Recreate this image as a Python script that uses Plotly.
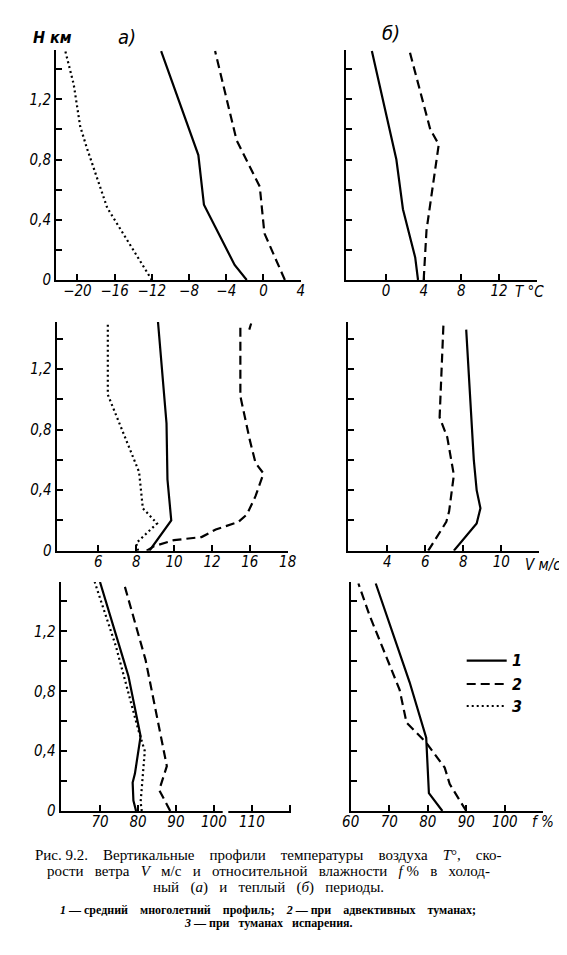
import plotly.graph_objects as go

# page body keeps its default 8px margin, so the figure is a bit smaller
# than the window and everything is placed relative to the window corner
PAGE_W, PAGE_H, BODY = 567, 955, 8
W, H = PAGE_W - BODY, PAGE_H - BODY

#-------------------------------------------------------------------------
# Data - heights (km) and values
#-------------------------------------------------------------------------

# temperature, cold period (a)
T_A_H1 = [0, 0.1, 0.5, 0.83, 1.52]
T_A_1 = [-1.8, -3.1, -6.4, -7.0, -11.0]
T_A_H2 = [0, 0.31, 0.62, 0.93, 1.52]
T_A_2 = [2.3, 0.1, -0.4, -2.9, -5.2]
T_A_H3 = [0, 0.48, 0.88, 1.02, 1.3, 1.52]
T_A_3 = [-12.0, -16.8, -19.0, -19.7, -20.4, -21.3]

# temperature, warm period (б)
T_B_H1 = [0, 0.15, 0.47, 0.8, 1.52]
T_B_1 = [3.4, 3.1, 1.8, 1.1, -1.5]
T_B_H2 = [0, 0.33, 0.9, 1.0, 1.52]
T_B_2 = [4.0, 4.3, 5.6, 4.7, 2.5]

# wind speed, cold period
V_A_H1 = [0, 0.2, 0.47, 0.84, 1.51]
V_A_1 = [8.7, 9.85, 9.65, 9.6, 9.15]
V_A_H2 = [0, 0.03, 0.07, 0.09, 0.14, 0.19, 0.24, 0.36, 0.51, 0.58, 0.73, 1.02, 1.5, None, 1.46, 1.5]
V_A_2 = [8.55, 8.95, 10.0, 11.45, 12.2, 13.4, 13.85, 14.3, 14.72, 14.3, 14.0, 13.5, 13.5, None, 13.97, 14.07]
V_A_H3 = [0, 0.05, 0.18, 0.28, 0.52, 1.03, 1.51]
V_A_3 = [8.1, 8.0, 9.1, 8.35, 8.15, 6.5, 6.5]

# wind speed, warm period
V_B_H1 = [0, 0.18, 0.28, 0.4, 0.6, 1.46]
V_B_1 = [7.5, 8.7, 8.9, 8.7, 8.55, 8.15]
V_B_H2 = [0, 0.19, 0.26, 0.5, 0.75, 0.88, 1.49]
V_B_2 = [6.15, 7.1, 7.25, 7.5, 7.15, 6.75, 6.95]

# relative humidity, cold period
F_A_H1 = [0, 0.07, 0.19, 0.25, 0.5, 0.9, 1.01, 1.53]
F_A_1 = [79.5, 78.8, 78.6, 79.2, 80.7, 77.5, 76.2, 70.0]
F_A_H2 = [0, 0.14, 0.3, 1.01, 1.53]
F_A_2 = [88.5, 85.6, 87.6, 82.0, 76.2]
F_A_H3 = [0, 0.06, 0.4, 0.55, 1.1, 1.53]
F_A_3 = [81.0, 80.7, 81.8, 80.0, 74.2, 68.6]

# relative humidity, warm period
F_B_H1 = [0, 0.12, 0.49, 0.86, 1.52]
F_B_1 = [83.8, 80.3, 79.6, 75.3, 66.5]
F_B_H2 = [0, 0.18, 0.29, 0.46, 0.59, 0.81, 1.3, 1.52]
F_B_2 = [90.0, 85.7, 84.4, 79.5, 74.5, 72.7, 65.0, 62.0]

# ticks
H_TICKS = [0, 0.2, 0.4, 0.6, 0.8, 1.0, 1.2, 1.4]
H_LABELS = ['0', '', '0,4', '', '0,8', '', '1,2', '']
T_A_TICKS = [-20, -16, -12, -8, -4, 0, 4]
T_A_LABELS = ['−20', '−16', '−12', '−8', '−4', '0', '4']
T_B_TICKS = [0, 4, 8, 12, 16]
T_B_LABELS = ['0', '4', '8', '12', '']
V_A_TICKS = [6, 8, 10, 12, 14, 16]
V_A_LABELS = ['6', '8', '10', '12', '16', '18']   # as printed
V_B_TICKS = [4, 6, 8, 10, 12]
V_B_LABELS = ['4', '6', '8', '10', '']
F_A_TICKS = [70, 80, 90, 100, 110, 120]
F_A_LABELS = ['70', '80', '90', '100', '110', '']
F_B_TICKS = [60, 70, 80, 90, 100, 110]
F_B_LABELS = ['60', '70', '80', '90', '100', '']


#-------------------------------------------------------------------------
# Styles
#-------------------------------------------------------------------------

LABEL_FONT = dict(family='DejaVu Sans Condensed, Liberation Sans Narrow, Liberation Sans',
                  size=15, color='black', style='italic')
CAPTION_FONT = dict(family='Liberation Serif, Times New Roman, serif', size=15, color='black')

LINES = {
    1: dict(color='black', width=2.2),
    2: dict(color='black', width=2.2, dash='9px,5px'),
    3: dict(color='black', width=2.2, dash='2px,3px'),
}

def px(x):
    return (x - BODY) / W

def py(y):
    return 1 - (y - BODY) / H


# (x domain px, y domain px, x range, y top, ticks, labels, left column, series)
PANELS = [
    ((56, 300.7), (49.6, 280), (-22.3, 4.0), 1.53, T_A_TICKS, T_A_LABELS, True,
     [(T_A_1, T_A_H1, 1), (T_A_2, T_A_H2, 2), (T_A_3, T_A_H3, 3)]),
    ((345.5, 536.7), (49.6, 280), (-4.3, 16.0), 1.53, T_B_TICKS, T_B_LABELS, False,
     [(T_B_1, T_B_H1, 1), (T_B_2, T_B_H2, 2)]),
    ((56.7, 287.7), (322, 550.7), (3.8, 16.0), 1.51, V_A_TICKS, V_A_LABELS, True,
     [(V_A_1, V_A_H1, 1), (V_A_2, V_A_H2, 2), (V_A_3, V_A_H3, 3)]),
    ((348.3, 539.3), (322, 550.7), (1.94, 12.0), 1.51, V_B_TICKS, V_B_LABELS, False,
     [(V_B_1, V_B_H1, 1), (V_B_2, V_B_H2, 2)]),
    ((60.5, 291), (582, 811), (59.6, 120.3), 1.53, F_A_TICKS, F_A_LABELS, True,
     [(F_A_1, F_A_H1, 1), (F_A_2, F_A_H2, 2), (F_A_3, F_A_H3, 3)]),
    ((350.7, 543.3), (582, 811), (60, 110), 1.53, F_B_TICKS, F_B_LABELS, False,
     [(F_B_1, F_B_H1, 1), (F_B_2, F_B_H2, 2)]),
]


fig = go.Figure()
layout = {}

for i, (xd, yd, xr, ytop, ticks, labels, left, series) in enumerate(PANELS, start=1):
    sfx = '' if i == 1 else str(i)
    for vals, hts, kind in series:
        fig.add_trace(go.Scatter(
            x=vals, y=hts, xaxis='x' + sfx, yaxis='y' + sfx,
            mode='lines', line=LINES[kind], showlegend=False,
            connectgaps=False, hoverinfo='skip',
        ))

    axis_common = dict(
        showline=True, linecolor='black', linewidth=2,
        ticks='inside', ticklen=6, tickwidth=1.6, tickcolor='black',
        showgrid=False, zeroline=False, tickfont=LABEL_FONT,
        tickmode='array', automargin=False,
    )
    layout['xaxis' + sfx] = dict(
        axis_common, domain=[px(xd[0]), px(xd[1])], range=list(xr),
        anchor='y' + sfx, tickvals=ticks, ticktext=labels,
        ticklabelstandoff=-4,
    )
    layout['yaxis' + sfx] = dict(
        axis_common, domain=[py(yd[1]), py(yd[0])], range=[0, ytop],
        anchor='x' + sfx, tickvals=H_TICKS,
        ticktext=H_LABELS if left else [''] * len(H_TICKS),
    )


#-------------------------------------------------------------------------
# Annotations: panel titles, units, legend and caption
#-------------------------------------------------------------------------

def note(text, x, y, size=14, font=None, **kw):
    f = dict(font or LABEL_FONT)
    f['size'] = size
    return dict(text=text, x=px(x), y=py(y), xref='paper', yref='paper',
                xanchor='center', yanchor='middle',
                showarrow=False, font=f, **kw)

bold_font = dict(LABEL_FONT, weight='bold')

annotations = [
    note('H км', 52, 38, size=16, font=bold_font),
    note('а)', 127, 37, size=20),
    note('б)', 391, 33, size=20),
    note('T °C', 529, 292, size=15),
    note('V м/с', 543, 565, size=15),
    note('f %', 543, 822, size=15),
]

# legend
for k, yy in zip([1, 2, 3], [660.7, 684, 706]):
    annotations.append(note(str(k), 517, yy, size=16, font=bold_font))

shapes = [
    dict(type='line', xref='paper', yref='paper',
         x0=px(466.7), x1=px(506.7), y0=py(yy), y1=py(yy), line=LINES[k])
    for k, yy in zip([1, 2, 3], [660.7, 684, 706])
]
# axis break in the humidity (cold) panel
shapes.append(dict(type='rect', xref='paper', yref='paper', layer='above',
                   x0=px(222.7), x1=px(228.3), y0=py(815), y1=py(806),
                   fillcolor='white', line=dict(width=0)))

# caption - extra non-breaking spaces imitate the justified typesetting
NB = '\u00a0'

def spaced(words, n):
    return (NB * n).join(words)

CAPTION = [
    (spaced(['Рис.' + NB + '9.2.', 'Вертикальные', 'профили', 'температуры', 'воздуха',
             '<i>T</i>°,', 'ско-'], 4), 855, 15, False),
    (spaced(['рости', 'ветра', '<i>V</i>', 'м/с', 'и', 'относительной', 'влажности',
             '<i>f</i>' + NB + '%', 'в', 'холод-'], 3), 871, 15, False),
    (spaced(['ный', '(<i>а</i>)', 'и', 'теплый', '(<i>б</i>)', 'периоды.'], 3), 887, 15, False),
    (spaced(['<i>1</i> — средний', 'многолетний', 'профиль;', '<i>2</i> — при',
             'адвективных', 'туманах;'], 4), 910, 12, True),
    (spaced(['<i>3</i> — при', 'туманах', 'испарения.'], 3), 923, 12, True),
]
for text, yy, size, bold in CAPTION:
    f = dict(CAPTION_FONT, weight='bold') if bold else CAPTION_FONT
    annotations.append(note(text, 268, yy, size=size, font=f))

fig.update_layout(
    **layout,
    width=W, height=H,
    margin=dict(l=0, r=0, t=0, b=0),
    plot_bgcolor='white', paper_bgcolor='white',
    annotations=annotations,
    shapes=shapes,
    showlegend=False,
)

fig.write_html("out.html")
